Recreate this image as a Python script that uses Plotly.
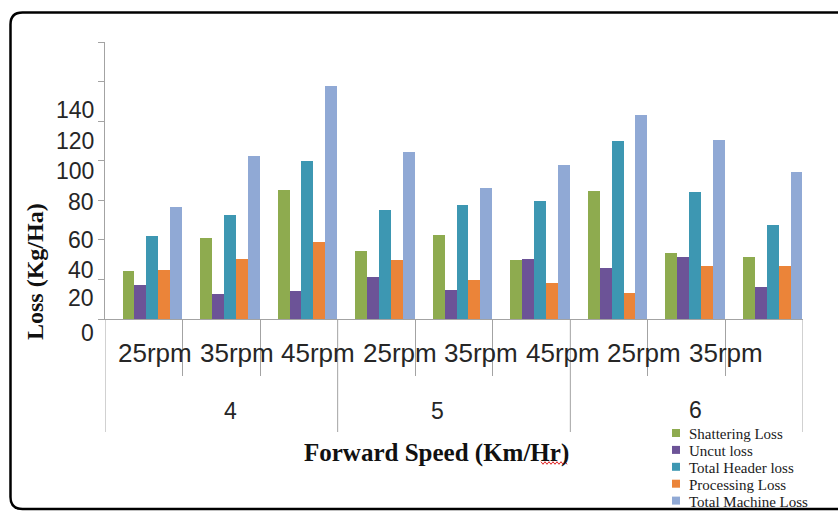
import plotly.graph_objects as go

# Threshing drum speed within each forward-speed group, and the forward speeds
RPM_LABELS = ["25rpm", "35rpm", "45rpm", "25rpm", "35rpm", "45rpm", "25rpm", "35rpm", "45rpm"]
SPEED_LABELS = ["4", "5", "6"]

SERIES_NAMES = ["Shattering Loss", "Uncut loss", "Total Header loss",
                "Processing Loss", "Total Machine Loss"]
SERIES_COLORS = ["#8EAB4F", "#6C5397", "#3D97B2", "#EB8439", "#90A9D5"]

# Losses in Kg/Ha for the nine speed / rpm combinations
shattering_loss = [24.5, 40.9, 65.4, 34.3, 42.7, 29.6, 64.6, 33.5, 31.4]
uncut_loss = [17.4, 12.4, 14.4, 21.1, 14.9, 30.4, 25.9, 31.4, 16.1]
total_header_loss = [41.7, 52.8, 79.7, 55.3, 57.4, 59.5, 90.2, 64.1, 47.4]
processing_loss = [25.0, 30.1, 38.7, 29.6, 19.6, 18.3, 13.2, 26.7, 26.7]
total_machine_loss = [56.8, 82.6, 118.0, 84.3, 66.3, 77.6, 103.3, 90.7, 74.2]

Y_TICKS = [0, 20, 40, 60, 80, 100, 120, 140]
Y_TICK_TEXT = ["0", "20", "40", "60", "80", "100", "120", "140"]

series_values = [shattering_loss, uncut_loss, total_header_loss,
                 processing_loss, total_machine_loss]

W, H = 838, 512
ML, MR, MT, MB = 105, 35, 42, 193
PW, PH = W - ML - MR, H - MT - MB
AXIS_GRAY = "#A3A3A3"


def px_x(px):
    return (px - ML) / PW


def px_y(py):
    return (H - MB - py) / PH


fig = go.Figure()

positions = list(range(len(RPM_LABELS)))
bar_w = 0.1534
first_offset = -0.2744
for k, (name, vals, col) in enumerate(zip(SERIES_NAMES, series_values, SERIES_COLORS)):
    fig.add_trace(go.Bar(
        x=positions, y=vals, name=name,
        width=bar_w, offset=first_offset + k * bar_w,
        marker=dict(color=col, line=dict(width=0)),
        showlegend=False,
    ))

annotations = []
shapes = []

# y tick labels (set off from the tick marks)
label_py = [333, 298, 270, 240, 202, 171, 141, 110]
for txt, py in zip(Y_TICK_TEXT, label_py):
    annotations.append(dict(
        text=txt, xref="paper", yref="paper", x=px_x(96), y=px_y(py),
        xanchor="right", yanchor="middle", showarrow=False,
        font=dict(family="Liberation Sans", size=23, color="#262626"),
    ))

# rpm category labels run along one line; the last one wraps out of view
for i, txt in enumerate(RPM_LABELS[:8]):
    annotations.append(dict(
        text=txt, xref="paper", yref="paper", x=px_x(116 + 81.5 * i), y=px_y(353),
        xanchor="left", yanchor="middle", showarrow=False,
        font=dict(family="Liberation Sans", size=26, color="#262626"),
    ))

# forward speed group labels
for txt, (cx, cy) in zip(SPEED_LABELS, [(230, 411), (437, 411), (695, 410)]):
    annotations.append(dict(
        text=txt, xref="paper", yref="paper", x=px_x(cx), y=px_y(cy),
        xanchor="center", yanchor="middle", showarrow=False,
        font=dict(family="Liberation Sans", size=23, color="#262626"),
    ))

# axis titles
annotations.append(dict(
    text="<b>Forward Speed (Km/Hr)</b>", xref="paper", yref="paper",
    x=px_x(436), y=px_y(453), xanchor="center", yanchor="middle", showarrow=False,
    font=dict(family="Liberation Serif", size=25, color="#111111"),
))
annotations.append(dict(
    text="<b>Loss (Kg/Ha)</b>", xref="paper", yref="paper",
    x=px_x(35), y=px_y(272), xanchor="center", yanchor="middle", showarrow=False,
    textangle=-90,
    font=dict(family="Liberation Serif", size=24, color="#111111"),
))

# legend entries
for i, (name, col) in enumerate(zip(SERIES_NAMES, SERIES_COLORS)):
    cy = 433 + 16.9 * i
    shapes.append(dict(
        type="rect", xref="paper", yref="paper",
        x0=px_x(672), x1=px_x(680), y0=px_y(cy - 4), y1=px_y(cy + 4),
        fillcolor=col, line=dict(width=0),
    ))
    annotations.append(dict(
        text=name, xref="paper", yref="paper", x=px_x(687), y=px_y(cy + 1),
        xanchor="left", yanchor="middle", showarrow=False,
        font=dict(family="Liberation Serif", size=15, color="#1A1A1A"),
    ))

# long dividers between the forward-speed groups
for xv in [-0.5, 2.5, 5.5, 8.5]:
    shapes.append(dict(
        type="line", xref="x", yref="paper", x0=xv, x1=xv,
        y0=0, y1=px_y(432), line=dict(color=AXIS_GRAY, width=1),
    ))

# spell-check squiggle under "Hr"
pts = []
x_start, x_end, base = 541, 568, 463
step = 2.0
n = int((x_end - x_start) / step)
for j in range(n + 1):
    xx = x_start + j * step
    yy = base + (1.3 if j % 2 else -1.3)
    pts.append((px_x(xx), px_y(yy)))
path = "M" + " L".join(f"{a:.5f},{b:.5f}" for a, b in pts)
shapes.append(dict(type="path", xref="paper", yref="paper", path=path,
                   line=dict(color="#E02020", width=1)))


# rounded frame around the figure (right side runs off the page)
def P(px, py):
    return f"{px_x(px):.5f},{px_y(py):.5f}"


r = 12
left, top, bottom, right = 10.5, 12.5, 509, 850
frame = (f"M{P(right, top)} L{P(left + r, top)} Q{P(left, top)} {P(left, top + r)} "
         f"L{P(left, bottom - r)} Q{P(left, bottom)} {P(left + r, bottom)} L{P(right, bottom)}")
shapes.append(dict(type="path", xref="paper", yref="paper", path=frame,
                   line=dict(color="#000000", width=2.5)))

fig.update_layout(
    width=W, height=H,
    margin=dict(l=ML, r=MR, t=MT, b=MB, pad=0),
    paper_bgcolor="white", plot_bgcolor="white",
    barmode="overlay", bargap=0,
    showlegend=False,
    xaxis=dict(
        range=[-0.5, 8.5], showgrid=False, zeroline=False,
        showline=True, linecolor=AXIS_GRAY, linewidth=1,
        tickmode="array", tickvals=[0.5, 1.5, 3.5, 4.5, 6.5, 7.5],
        ticks="outside", ticklen=56, tickcolor=AXIS_GRAY, tickwidth=1,
        showticklabels=False,
    ),
    yaxis=dict(
        range=[0, 140], showgrid=False, zeroline=False,
        showline=True, linecolor=AXIS_GRAY, linewidth=1,
        tickmode="array", tickvals=Y_TICKS,
        ticks="outside", ticklen=6, tickcolor=AXIS_GRAY, tickwidth=1,
        showticklabels=False,
    ),
    annotations=annotations,
    shapes=shapes,
)

fig.write_html("out.html")
